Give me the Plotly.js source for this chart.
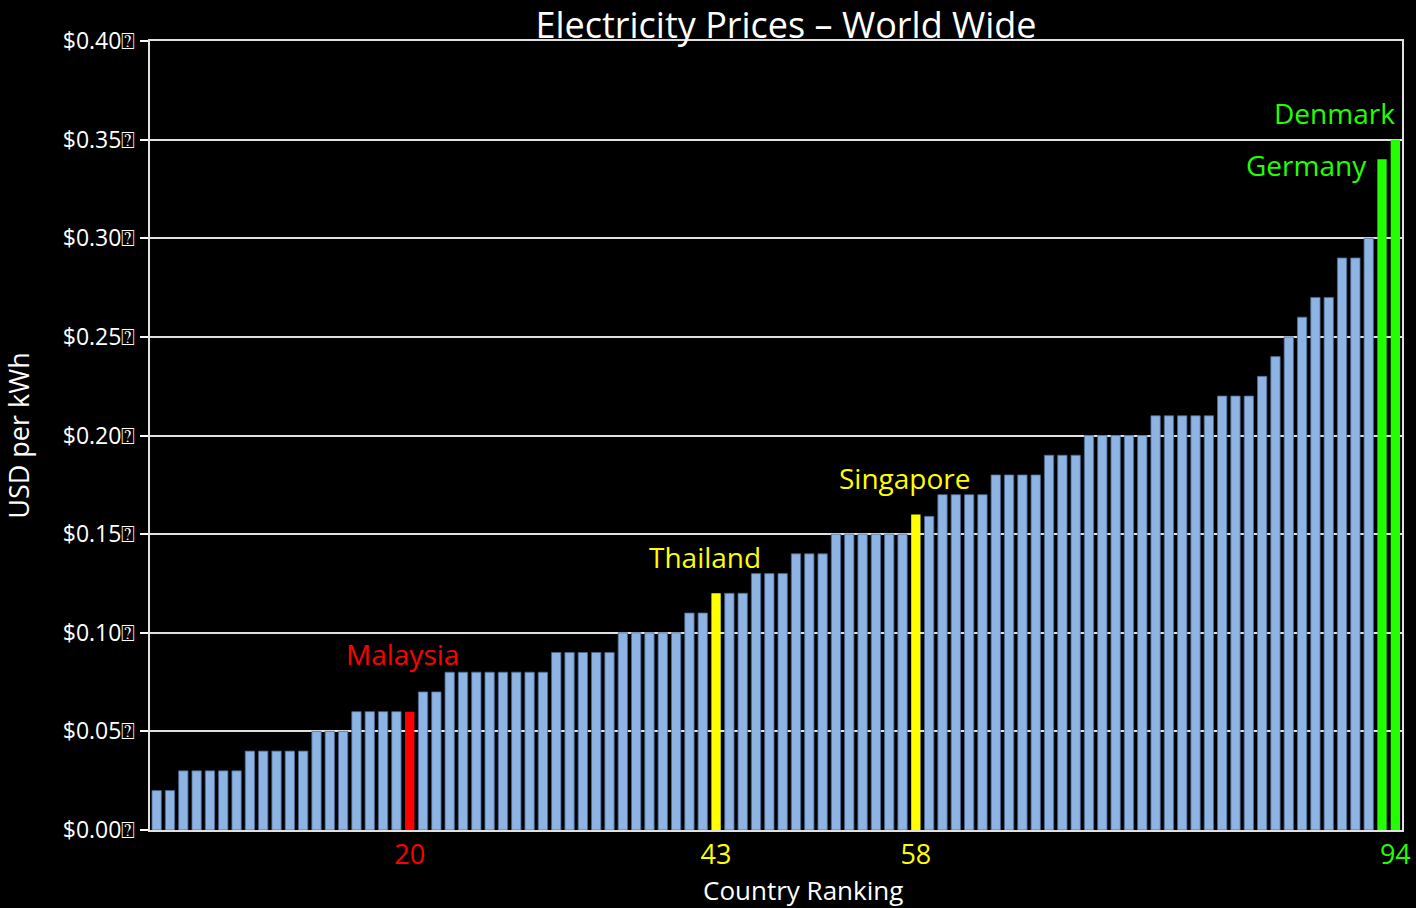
<!DOCTYPE html>
<html>
<head>
<meta charset="utf-8">
<script src="https://cdn.plot.ly/plotly-3.0.1.min.js"></script>
<style>html,body{margin:0;padding:0;background:#000;}#chart{width:1416px;height:908px;}</style>
</head>
<body>
<div id="chart"></div>
<script>
// Price (USD per kWh) for countries ranked 1..94
const prices = [
  0.02, 0.02,
  0.03, 0.03, 0.03, 0.03, 0.03,
  0.04, 0.04, 0.04, 0.04, 0.04,
  0.05, 0.05, 0.05,
  0.06, 0.06, 0.06, 0.06, 0.06,
  0.07, 0.07,
  0.08, 0.08, 0.08, 0.08, 0.08, 0.08, 0.08, 0.08,
  0.09, 0.09, 0.09, 0.09, 0.09,
  0.10, 0.10, 0.10, 0.10, 0.10,
  0.11, 0.11,
  0.12, 0.12, 0.12,
  0.13, 0.13, 0.13,
  0.14, 0.14, 0.14,
  0.15, 0.15, 0.15, 0.15, 0.15, 0.15,
  0.16, 0.159,
  0.17, 0.17, 0.17, 0.17,
  0.18, 0.18, 0.18, 0.18,
  0.19, 0.19, 0.19,
  0.20, 0.20, 0.20, 0.20, 0.20,
  0.21, 0.21, 0.21, 0.21, 0.21,
  0.22, 0.22, 0.22,
  0.23, 0.24, 0.25, 0.26,
  0.27, 0.27,
  0.29, 0.29,
  0.30,
  0.34, 0.35
];
const ranks = prices.map((_, i) => i + 1);

// Highlighted countries
const highlightRanks = [20, 43, 58, 93, 94];
const highlightNames = ["Malaysia", "Thailand", "Singapore", "Germany", "Denmark"];
const highlightColors = ["#FF0000", "#FFFF00", "#FFFF00", "#22FF00", "#22FF00"];

// Axis tick labels
const xTickVals = [20, 43, 58, 94];
const xTickColors = ["#FF0000", "#FFFF00", "#FFFF00", "#22FF00"];
const yTickVals = [0, 0.05, 0.10, 0.15, 0.20, 0.25, 0.30, 0.35, 0.40];
const yTickText = yTickVals.map(v => "$" + v.toFixed(2) + "\u2370");

const baseColor = "#8EB4E3";
const barColors = ranks.map(r => {
  const k = highlightRanks.indexOf(r);
  return k >= 0 ? highlightColors[k] : baseColor;
});
const lineColors = ranks.map(r => highlightRanks.indexOf(r) >= 0 ? "rgba(0,0,0,0)" : "#4A6A93");

const trace = {
  type: "bar",
  x: ranks,
  y: prices,
  marker: { color: barColors, line: { color: lineColors, width: 0.8 } },
  hoverinfo: "x+y"
};

const fontFam = "'Open Sans', sans-serif";

// annotation placement styles (offsets only)
const annStyle = [
  { xanchor: "center", yanchor: "bottom", xshift: -7, yshift: 37 },
  { xanchor: "center", yanchor: "bottom", xshift: -11, yshift: 15 },
  { xanchor: "center", yanchor: "bottom", xshift: -11, yshift: 15 },
  { xanchor: "right", yanchor: "middle", xshift: -13, yshift: -6 },
  { xanchor: "right", yanchor: "bottom", xshift: 2, yshift: 6 }
];
const annotations = highlightRanks.map((r, i) => Object.assign({
  x: r, y: prices[r - 1], xref: "x", yref: "y",
  text: highlightNames[i], showarrow: false,
  font: { family: fontFam, size: 28, color: highlightColors[i] }
}, annStyle[i]));

// x axis title placed as a paper annotation (offset to match the original)
annotations.push({
  x: 0.5216, y: -0.0765, xref: "paper", yref: "paper",
  xanchor: "center", yanchor: "middle", showarrow: false,
  text: "Country Ranking",
  font: { family: fontFam, size: 26, color: "#FFFFFF" }
});

const layout = {
  width: 1416, height: 908,
  paper_bgcolor: "#000000", plot_bgcolor: "#000000",
  margin: { l: 150, r: 14, t: 41, b: 78 },
  showlegend: false,
  bargap: 0.3,
  title: {
    text: "Electricity Prices \u2013 World Wide",
    font: { family: fontFam, size: 36, color: "#FFFFFF" },
    x: 786 / 1416, xref: "container", xanchor: "center",
    y: 1 - 25 / 908, yref: "container", yanchor: "middle"
  },
  xaxis: {
    range: [0.5, 94.5],
    tickmode: "array",
    tickvals: xTickVals,
    ticktext: xTickVals.map((v, i) => '<span style="color:' + xTickColors[i] + '">' + v + '</span>'),
    tickfont: { family: fontFam, size: 27, color: "#FFFFFF" },
    ticks: "", showgrid: false, zeroline: false,
    showline: true, linecolor: "#E0E0E0", linewidth: 2, mirror: true,
    automargin: false
  },
  yaxis: {
    range: [0, 0.40],
    tickmode: "array",
    tickvals: yTickVals,
    ticktext: yTickText,
    tickfont: { family: fontFam, size: 23, color: "#FFFFFF" },
    ticks: "outside", ticklen: 8, tickcolor: "#FFFFFF", tickwidth: 2,
    showgrid: true, gridcolor: "#E0E0E0", gridwidth: 2,
    zeroline: false,
    showline: true, linecolor: "#E0E0E0", linewidth: 2, mirror: true,
    title: { text: "USD per kWh", font: { family: fontFam, size: 27, color: "#FFFFFF" }, standoff: 30 },
    automargin: false
  },
  annotations: annotations
};

Plotly.newPlot("chart", [trace], layout, { displayModeBar: false, staticPlot: true });
</script>
</body>
</html>
